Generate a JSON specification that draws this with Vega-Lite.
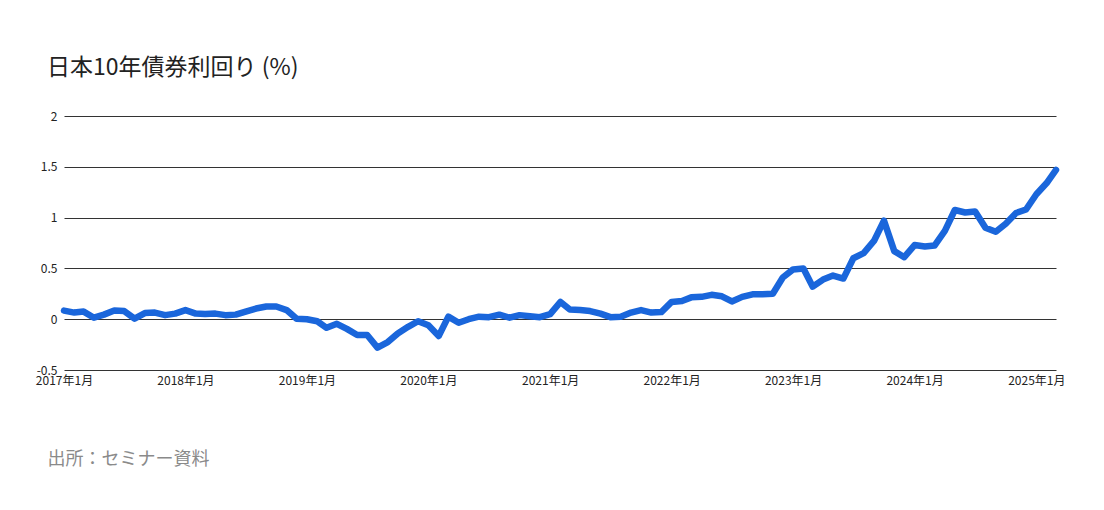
{
  "$schema": "https://vega.github.io/schema/vega-lite/v6.json",
  "width": 992,
  "height": 254,
  "autosize": {"type": "none"},
  "padding": {"left": 64, "top": 116, "right": 48, "bottom": 140},
  "background": "#ffffff",
  "title": {
    "text": "日本10年債券利回り (%)",
    "anchor": "start",
    "frame": "group",
    "dx": -17,
    "offset": 12,
    "baseline": "alphabetic",
    "font": "Noto Sans CJK JP",
    "fontSize": 23,
    "fontWeight": "normal",
    "color": "#222222"
  },
  "config": {
    "view": {"stroke": null},
    "font": "Noto Sans CJK JP"
  },
  "data": {
    "values": [
      {"date": "2017-01-01", "y": 0.085}, {"date": "2017-02-01", "y": 0.065}, {"date": "2017-03-01", "y": 0.075}, {"date": "2017-04-01", "y": 0.015},
      {"date": "2017-05-01", "y": 0.045}, {"date": "2017-06-01", "y": 0.085}, {"date": "2017-07-01", "y": 0.08}, {"date": "2017-08-01", "y": 0.005},
      {"date": "2017-09-01", "y": 0.06}, {"date": "2017-10-01", "y": 0.065}, {"date": "2017-11-01", "y": 0.04}, {"date": "2017-12-01", "y": 0.055},
      {"date": "2018-01-01", "y": 0.09}, {"date": "2018-02-01", "y": 0.055}, {"date": "2018-03-01", "y": 0.05}, {"date": "2018-04-01", "y": 0.055},
      {"date": "2018-05-01", "y": 0.04}, {"date": "2018-06-01", "y": 0.045}, {"date": "2018-07-01", "y": 0.075}, {"date": "2018-08-01", "y": 0.105},
      {"date": "2018-09-01", "y": 0.125}, {"date": "2018-10-01", "y": 0.125}, {"date": "2018-11-01", "y": 0.09}, {"date": "2018-12-01", "y": 0.005},
      {"date": "2019-01-01", "y": 0.0}, {"date": "2019-02-01", "y": -0.02}, {"date": "2019-03-01", "y": -0.085}, {"date": "2019-04-01", "y": -0.045},
      {"date": "2019-05-01", "y": -0.095}, {"date": "2019-06-01", "y": -0.155}, {"date": "2019-07-01", "y": -0.155}, {"date": "2019-08-01", "y": -0.28},
      {"date": "2019-09-01", "y": -0.225}, {"date": "2019-10-01", "y": -0.14}, {"date": "2019-11-01", "y": -0.075}, {"date": "2019-12-01", "y": -0.02},
      {"date": "2020-01-01", "y": -0.06}, {"date": "2020-02-01", "y": -0.165}, {"date": "2020-03-01", "y": 0.025}, {"date": "2020-04-01", "y": -0.035},
      {"date": "2020-05-01", "y": 0.0}, {"date": "2020-06-01", "y": 0.025}, {"date": "2020-07-01", "y": 0.02}, {"date": "2020-08-01", "y": 0.045},
      {"date": "2020-09-01", "y": 0.015}, {"date": "2020-10-01", "y": 0.04}, {"date": "2020-11-01", "y": 0.03}, {"date": "2020-12-01", "y": 0.02},
      {"date": "2021-01-01", "y": 0.05}, {"date": "2021-02-01", "y": 0.17}, {"date": "2021-03-01", "y": 0.095}, {"date": "2021-04-01", "y": 0.09},
      {"date": "2021-05-01", "y": 0.08}, {"date": "2021-06-01", "y": 0.055}, {"date": "2021-07-01", "y": 0.02}, {"date": "2021-08-01", "y": 0.025},
      {"date": "2021-09-01", "y": 0.065}, {"date": "2021-10-01", "y": 0.09}, {"date": "2021-11-01", "y": 0.065}, {"date": "2021-12-01", "y": 0.07},
      {"date": "2022-01-01", "y": 0.17}, {"date": "2022-02-01", "y": 0.18}, {"date": "2022-03-01", "y": 0.215}, {"date": "2022-04-01", "y": 0.22},
      {"date": "2022-05-01", "y": 0.24}, {"date": "2022-06-01", "y": 0.225}, {"date": "2022-07-01", "y": 0.175}, {"date": "2022-08-01", "y": 0.22},
      {"date": "2022-09-01", "y": 0.245}, {"date": "2022-10-01", "y": 0.245}, {"date": "2022-11-01", "y": 0.25}, {"date": "2022-12-01", "y": 0.41},
      {"date": "2023-01-01", "y": 0.49}, {"date": "2023-02-01", "y": 0.5}, {"date": "2023-03-01", "y": 0.32}, {"date": "2023-04-01", "y": 0.39},
      {"date": "2023-05-01", "y": 0.43}, {"date": "2023-06-01", "y": 0.4}, {"date": "2023-07-01", "y": 0.6}, {"date": "2023-08-01", "y": 0.65},
      {"date": "2023-09-01", "y": 0.77}, {"date": "2023-10-01", "y": 0.97}, {"date": "2023-11-01", "y": 0.67}, {"date": "2023-12-01", "y": 0.61},
      {"date": "2024-01-01", "y": 0.73}, {"date": "2024-02-01", "y": 0.715}, {"date": "2024-03-01", "y": 0.725}, {"date": "2024-04-01", "y": 0.87},
      {"date": "2024-05-01", "y": 1.075}, {"date": "2024-06-01", "y": 1.05}, {"date": "2024-07-01", "y": 1.06}, {"date": "2024-08-01", "y": 0.9},
      {"date": "2024-09-01", "y": 0.86}, {"date": "2024-10-01", "y": 0.94}, {"date": "2024-11-01", "y": 1.045}, {"date": "2024-12-01", "y": 1.08},
      {"date": "2025-01-01", "y": 1.23}, {"date": "2025-02-01", "y": 1.34}, {"date": "2025-03-01", "y": 1.47}
    ]
  },
  "mark": {
    "type": "line",
    "color": "#1a66db",
    "strokeWidth": 6.5,
    "strokeJoin": "round",
    "strokeCap": "round"
  },
  "encoding": {
    "x": {
      "field": "date",
      "type": "temporal",
      "scale": {
        "type": "utc",
        "domain": [{"year": 2017, "month": 1, "date": 1, "utc": true}, {"year": 2025, "month": 3, "date": 1, "utc": true}]
      },
      "axis": {
        "values": [
          {"year": 2017, "month": 1, "date": 1, "utc": true},
          {"year": 2018, "month": 1, "date": 1, "utc": true},
          {"year": 2019, "month": 1, "date": 1, "utc": true},
          {"year": 2020, "month": 1, "date": 1, "utc": true},
          {"year": 2021, "month": 1, "date": 1, "utc": true},
          {"year": 2022, "month": 1, "date": 1, "utc": true},
          {"year": 2023, "month": 1, "date": 1, "utc": true},
          {"year": 2024, "month": 1, "date": 1, "utc": true},
          {"year": 2025, "month": 1, "date": 1, "utc": true}
        ],
        "labelExpr": "utcFormat(datum.value, '%Y') + '年' + utcFormat(datum.value, '%-m') + '月'",
        "domain": false,
        "ticks": false,
        "grid": false,
        "labelAngle": 0,
        "labelAlign": "center",
        "labelBaseline": "top",
        "labelPadding": 5,
        "labelFontSize": 12,
        "labelColor": "#222222",
        "labelOverlap": false,
        "labelBound": false,
        "labelFlush": false,
        "title": "出所：セミナー資料",
        "titleX": -17,
        "titleY": 89,
        "titleAlign": "left",
        "titleAnchor": "start",
        "titleBaseline": "middle",
        "titleAngle": 0,
        "titleFontSize": 18,
        "titleFontWeight": "normal",
        "titleColor": "#8a8a8a"
      }
    },
    "y": {
      "field": "y",
      "type": "quantitative",
      "scale": {"domain": [-0.5, 2], "nice": false, "zero": false},
      "axis": {
        "values": [-0.5, 0, 0.5, 1, 1.5, 2],
        "labelExpr": "'' + datum.value",
        "domain": false,
        "ticks": false,
        "grid": true,
        "gridColor": "#333333",
        "gridWidth": 1,
        "gridOpacity": 1,
        "labelPadding": 7,
        "labelFontSize": 12,
        "labelColor": "#222222",
        "labelBaseline": "middle",
        "labelBound": false,
        "labelFlush": false,
        "title": null
      }
    }
  }
}
